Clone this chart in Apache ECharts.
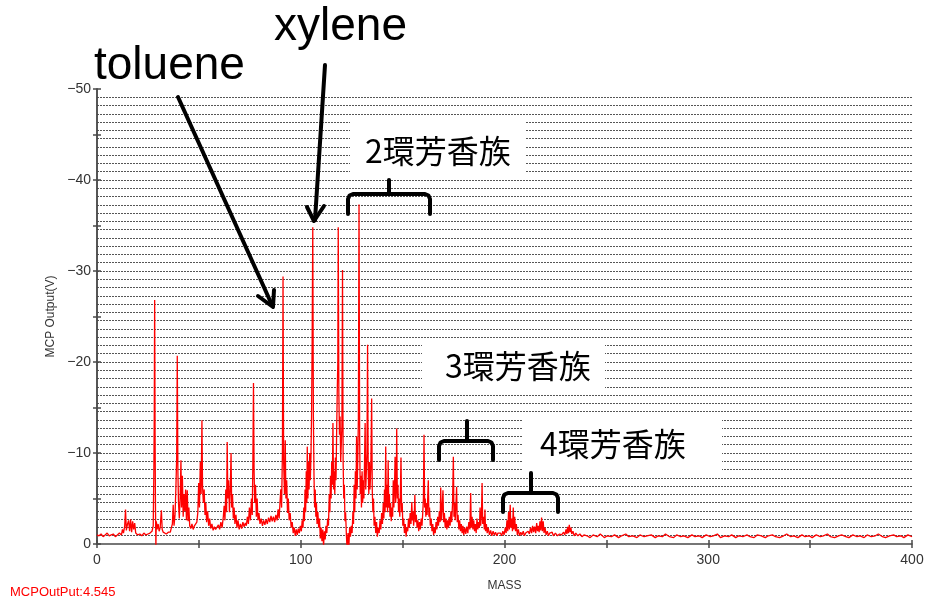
<!DOCTYPE html>
<html>
<head>
<meta charset="utf-8">
<script src="https://cdn.jsdelivr.net/npm/echarts@6/dist/echarts.min.js"></script>
<style>html,body{margin:0;padding:0;background:#fff}#c{width:928px;height:602px}</style>
</head>
<body>
<div id="c"></div>
<script>
// ---- data: [mass, MCP output (V)] ----
const lowMass = [
[0,-1.0],[1,-0.9],[2,-1.1],[3,-0.8],[4,-1.0],[5,-1.2],[6,-0.9],[7,-1.0],[8,-1.1],[9,-0.8],[10,-1.0],[11,-1.2],[12,-1.0],[12.5,-1.6],[13,-1.2],[13.6,-2.0],[14,-3.8],[14.4,-1.5],[15,-2.2],[15.5,-2.6],[16,-1.4],[16.5,-2.7],[17,-1.3],[17.5,-2.5],[18,-1.6],[18.5,-2.3],[19,-1.2],[20,-1.0],[21,-1.1],[22,-0.9],[23,-1.2],[24,-1.0],[25,-1.1],[26,-1.2],[27,-1.4],[27.6,-2.0],[27.9,-8],[28.1,-14],[28.3,-26.8],[28.5,-12],[28.7,-4],[28.9,0.3],[29.1,-2.5],[29.5,-1.6],[30,-2.2],[30.5,-1.4],[31,-1.8],[31.6,-3.7],[32,-1.6],[32.5,-1.3],[33,-1.2],[34,-1.1],[35,-1.3],
[36,-1.3],[36.5,-1.8],[37,-2.2],[37.4,-4.3],[37.8,-2.0],[38.3,-3.2],[38.7,-6.0],[39.1,-9.5],[39.4,-20.7],[39.7,-8.0],[40.0,-4.5],[40.4,-2.8],[40.8,-5.0],[41.2,-9.2],[41.5,-4.0],[41.9,-7.5],[42.3,-3.0],[42.7,-5.5],[43.1,-3.6],[43.5,-6.0],[43.9,-2.6],[44.3,-5.9],[44.7,-2.5],[45.1,-4.0],[45.5,-2.0],[46,-1.7],[46.6,-2.2],[47.2,-1.6],[47.8,-2.0],[48.4,-1.8],[49.0,-2.4],[49.5,-3.5],[49.9,-6.7],[50.3,-4.0],[50.7,-9.0],[51.1,-5.5],[51.5,-13.6],[51.8,-6.3],[52.2,-4.5],[52.6,-6.0],[53.0,-3.2],[53.4,-4.5],[53.8,-2.4],[54.3,-3.6],[54.8,-2.0],[55.3,-2.8],[55.8,-1.7],[56.4,-2.2],[57,-1.5],[57.6,-1.9],[58.2,-1.6]
];
const midMass = [
[59,-1.8],[59.6,-2.1],[60.2,-1.6],[60.8,-2.4],[61.4,-1.8],[62,-3.0],[62.4,-4.2],[62.8,-2.6],[63.2,-6.0],[63.6,-3.5],[63.9,-11.2],[64.2,-5.0],[64.6,-7.0],[65.0,-3.5],[65.4,-6.0],[65.8,-10.0],[66.1,-4.0],[66.5,-5.5],[66.9,-2.8],[67.3,-4.0],[67.7,-2.2],[68.2,-3.2],[68.7,-1.8],[69.2,-2.6],[69.8,-1.6],[70.4,-2.2],[71,-1.7],[71.6,-2.4],[72.2,-1.9],
[72.8,-2.3],[73.3,-2.0],[73.8,-3.0],[74.3,-2.2],[74.8,-4.0],[75.3,-2.6],[75.8,-5.0],[76.2,-3.2],[76.5,-9.0],[76.8,-17.7],[77.1,-8.0],[77.4,-4.5],[77.8,-6.5],[78.2,-3.0],[78.6,-5.0],[79.0,-2.6],[79.5,-3.4],[80,-2.2],[80.6,-2.8],[81.2,-2.0],[81.8,-2.6],[82.4,-2.1],[83,-2.7],
[83.6,-2.2],[84.2,-2.9],[84.8,-2.4],[85.4,-3.1],[86,-2.5],[86.6,-3.0],[87.2,-2.4],[87.8,-3.2],[88.4,-2.6],[88.9,-3.8],[89.4,-2.8],[89.8,-4.5],[90.2,-6.0],[90.6,-4.0],[91.0,-10],[91.3,-29.4],[91.6,-9],[92.0,-5.5],[92.4,-11.4],[92.7,-5.0],[93.1,-7.0],[93.5,-3.4],[93.9,-5.0],[94.3,-2.6],[94.8,-3.4],[95.3,-1.8],[95.8,-2.4],[96.3,-1.2],[96.8,-1.8],[97.3,-0.9],[97.8,-1.6],[98.3,-1.0],[98.8,-1.7],[99.3,-1.2],[99.8,-2.0]
];
const aromatic1 = [
[100.3,-1.4],[100.7,-2.6],[101.1,-1.8],[101.5,-4.0],[101.8,-2.5],[102.1,-6.0],[102.4,-3.5],[102.7,-8.0],[103.0,-4.5],[103.2,-10.7],[103.5,-5.0],[103.8,-9.0],[104.1,-6.0],[104.4,-10.0],[104.7,-7.0],[105.0,-9.5],[105.3,-14],[105.6,-22.4],[105.9,-34.8],[106.2,-14],[106.5,-7.5],[106.8,-4.0],[107.1,-6.0],[107.4,-3.0],[107.7,-4.5],[108.0,-2.2],[108.4,-3.5],[108.8,-1.8],[109.2,-2.8],[109.6,-0.6],[110.0,-1.8],[110.4,-0.3],[110.8,-1.6],[111.2,0.2],[111.6,-1.4],[112.0,-0.5],[112.4,-2.0],
[112.8,-1.2],[113.2,-2.8],[113.6,-2.0],[114.0,-5.5],[114.3,-3.5],[114.6,-7.5],[114.9,-5.0],[115.2,-9.0],[115.5,-6.5],[115.8,-13.3],[116.1,-6.0],[116.4,-8.0],[116.7,-5.5],[117.0,-9.5],[117.3,-7.0],[117.6,-12],[117.9,-16.6],[118.2,-20],[118.4,-34.8],[118.7,-16.6],[119.0,-12],[119.3,-14],[119.6,-9.0],[119.9,-11],[120.2,-13],[120.5,-30.1],[120.8,-9],[121.1,-5.0],[121.4,-6.5],[121.7,-2.5],[122.0,-3.5],[122.4,-1.0],[122.8,0.8],[123.2,-1.2],[123.6,0.4],[124.0,-1.8],[124.4,-0.8]
];
const aromatic2 = [
[124.8,-2.0],[125.2,-1.2],[125.6,-3.5],[125.9,-2.2],[126.2,-6.5],[126.5,-3.5],[126.8,-8.0],[127.1,-5.0],[127.4,-11.8],[127.7,-6.0],[128.0,-9.5],[128.3,-14],[128.6,-37.3],[128.9,-11.8],[129.2,-5.5],[129.5,-7.5],[129.8,-4.0],[130.1,-8.0],[130.4,-4.5],[130.7,-7.0],[131.0,-5.0],[131.3,-9.0],[131.6,-13.3],[131.9,-6.0],[132.2,-8.0],[132.5,-10],[132.8,-21.9],[133.1,-8.0],[133.4,-5.5],[133.7,-9.0],[134.0,-6.0],[134.4,-8.5],[134.8,-16.0],[135.1,-6.0],[135.4,-3.5],[135.7,-5.0],[136.0,-2.0],[136.4,-3.0],[136.8,-1.2],[137.2,-2.4],[137.6,-0.8],[138.0,-1.8],
[138.5,-1.2],[138.9,-2.6],[139.3,-1.6],[139.7,-3.4],[140.1,-2.2],[140.5,-4.5],[140.8,-2.8],[141.1,-6.0],[141.4,-3.5],[141.7,-10.7],[142.0,-4.0],[142.3,-6.5],[142.6,-3.5],[142.9,-9.2],[143.2,-4.0],[143.5,-5.5],[143.8,-3.0],[144.1,-4.5],[144.4,-2.5],[144.8,-4.0],[145.1,-3.0],[145.4,-7.0],[145.7,-4.0],[146.0,-6.0],[146.3,-9.6],[146.6,-4.5],[146.9,-7.0],[147.1,-12.7],[147.4,-5.0],[147.7,-6.5],[148.0,-3.5],[148.3,-5.0],[148.6,-3.0],[148.9,-5.5],[149.2,-9.5],[149.5,-3.5],[149.8,-4.5],[150.1,-2.0],[150.5,-2.8],[150.9,-1.2],[151.3,-2.2],[151.7,-0.8],[152.1,-1.8]
];
const aromatic3 = [
[152.5,-1.4],[152.9,-2.8],[153.3,-1.8],[153.7,-3.4],[154.1,-2.2],[154.5,-4.6],[154.8,-2.6],[155.1,-3.6],[155.4,-2.0],[155.7,-3.0],[156.0,-5.4],[156.3,-2.4],[156.7,-3.2],[157.1,-1.8],[157.5,-2.6],[157.9,-1.4],[158.3,-2.4],[158.7,-1.6],[159.1,-2.8],[159.5,-2.0],[159.9,-3.5],[160.2,-5.0],[160.5,-12],[160.8,-4.0],[161.1,-5.0],[161.4,-3.0],[161.7,-4.5],[162.0,-3.2],[162.3,-5.0],[162.6,-7.0],[162.9,-3.0],[163.2,-4.0],[163.6,-2.0],[164.0,-2.8],[164.4,-1.4],[164.8,-2.2],[165.2,-1.0],[165.6,-1.8],
[166.0,-1.2],[166.4,-2.4],[166.8,-1.6],[167.2,-3.0],[167.6,-2.0],[168.0,-3.6],[168.4,-2.4],[168.7,-6.2],[169.0,-2.6],[169.4,-4.0],[169.8,-5.9],[170.1,-2.4],[170.5,-3.4],[170.9,-1.8],[171.3,-2.8],[171.7,-1.6],[172.1,-2.6],[172.5,-1.8],[172.9,-3.0],[173.3,-2.0],[173.7,-3.6],[174.1,-2.4],[174.5,-4.5],[174.9,-9.6],[175.2,-3.0],[175.5,-4.5],[175.8,-2.6],[176.1,-4.0],[176.5,-6.3],[176.8,-2.4],[177.2,-3.2],[177.6,-1.6],[178.0,-2.6],[178.4,-1.4],[178.8,-2.2],[179.2,-1.2],[179.6,-2.0],[180.0,-1.0],[180.5,-1.8],[181.0,-1.1],[181.5,-1.9],
[182.0,-1.2],[182.5,-2.4],[183.0,-1.6],[183.4,-5.6],[183.7,-1.8],[184.1,-3.0],[184.5,-1.6],[184.9,-2.6],[185.3,-1.4],[185.7,-2.2],[186.1,-1.2],[186.5,-2.8],[186.9,-1.6],[187.3,-2.4],[187.7,-1.8],[188.0,-4.0],[188.3,-2.0],[188.7,-3.2],[189.0,-6.7],[189.3,-2.2],[189.7,-3.0],[190.1,-1.6],[190.4,-3.8],[190.7,-1.4],[191.1,-2.2],[191.5,-1.2],[192,-1.8],[192.6,-1.0],[193.2,-1.5],[193.8,-0.9],[194.4,-1.4],[195,-1.0],[195.6,-1.3],[196.2,-0.9],[196.8,-1.2],[197.4,-1.0]
];
const aromatic4 = [
[198,-1.2],[198.6,-0.9],[199.2,-1.4],[199.8,-1.0],[200.4,-1.8],[200.8,-1.2],[201.2,-2.6],[201.6,-1.4],[202.0,-3.5],[202.4,-1.6],[202.8,-4.3],[203.1,-1.8],[203.5,-2.8],[203.9,-1.4],[204.3,-4.0],[204.6,-1.6],[205.0,-3.0],[205.4,-1.4],[205.8,-2.2],[206.3,-1.0],[206.8,-1.6],[207.4,-0.9],[208,-1.3],[208.6,-1.0],[209.2,-1.4],[209.8,-0.9],[210.4,-1.2],[211,-1.0],[211.6,-1.4],[212.2,-1.1],[212.8,-1.8],[213.3,-1.2],[213.8,-2.0],[214.3,-1.3],[214.8,-1.9],[215.3,-1.2],[215.8,-2.3],[216.2,-1.4],[216.6,-2.0],[217.0,-1.3],[217.4,-2.5],[217.8,-1.5],[218.2,-2.9],[218.6,-1.4],[219.0,-2.5],[219.4,-1.2],[219.9,-1.8],[220.4,-1.0],[221,-1.4],[221.6,-0.9],[222.2,-1.2],[222.8,-1.0],[223.4,-1.3],[224,-0.9],[225,-1.2],[226,-0.9],[227,-1.1],[228,-1.0],[229,-1.3],[229.6,-1.0],[230.2,-1.6],[230.6,-1.1],[231.0,-1.9],[231.4,-1.2],[231.8,-2.1],[232.2,-1.3],[232.6,-1.8],[233.0,-1.1],[233.6,-1.4],[234.2,-0.9],[235,-1.2],[236,-0.9],[237,-1.1],[238,-0.8],[239,-1.0]
];
const highMass = [
[240.5,-0.9],[242,-0.7],[243.5,-1.0],[245.5,-0.8],[247,-1.1],[249,-0.7],[250.5,-0.9],[252.5,-0.8],[254,-1.0],[256,-0.7],[257.5,-0.9],[259.5,-1.1],[261,-0.8],[263,-0.9],[265,-0.7],[266.5,-1.0],[268.5,-0.8],[270,-0.9],[272,-1.0],[274,-0.7],[275.5,-0.9],[277.5,-0.8],[279,-1.1],[281,-0.8],[283,-0.7],[284.5,-1.0],[286.5,-0.8],[288,-0.9],[290,-0.7],[292,-1.0],[293.5,-0.8],[295.5,-0.9],[297,-0.7],[299,-1.0],[301,-0.8],[302.5,-0.9],[304.5,-1.1],[306,-0.7],[308,-0.9],[310,-0.8],[311.5,-1.0],[313.5,-0.7],[315,-0.9],[317,-0.8],[319,-1.0],[320.5,-0.8],[322.5,-0.7],[324,-1.0],[326,-0.9],[328,-0.7],[329.5,-0.9],[331.5,-1.0],[333,-0.8],[335,-0.7],[337,-0.9],[338.5,-1.1],[340.5,-0.8],[342,-0.9],[344,-0.7],[346,-1.0],[347.5,-0.8],[349.5,-0.9],[351,-0.7],[353,-1.0],[355,-0.8],[356.5,-0.9],[358.5,-1.1],[360,-0.8],[362,-0.7],[364,-0.9],[365.5,-1.0],[367.5,-0.8],[369,-0.7],[371,-1.0],[373,-0.8],[374.5,-0.9],[376.5,-0.7],[378,-1.0],[380,-0.8],[382,-0.9],[383.5,-1.1],[385.5,-0.8],[387,-0.7],[389,-0.9],[391,-1.0],[392.5,-0.8],[394.5,-0.9],[396,-0.7],[398,-1.0],[400,-0.8]
];
const yTickLabels = ['0','−10','−20','−30','−40','−50'];
const xTickLabels = ['0','100','200','300','400'];

const spectrum = [].concat(lowMass, midMass, aromatic1, aromatic2, aromatic3, aromatic4, highMass);

const chart = echarts.init(document.getElementById('c'), null, {renderer:'canvas'});
const axisColor = '#4a4a4a';
const labelFont = {fontFamily:'Liberation Sans, Arial, sans-serif', fontSize:14, color:'#333'};
const cjk = '"Noto Sans CJK JP", sans-serif';
const blk = {stroke:'#000', lineWidth:4, fill:null, lineCap:'round', lineJoin:'round'};
function brace(x1, x2, xc, yEnd, yBar, yTip){
  return [
    {type:'polyline', z:110, shape:{points:[[x1,yEnd],[x1,yBar+5],[x1+1.5,yBar+1.5],[x1+5,yBar],[x2-5,yBar],[x2-1.5,yBar+1.5],[x2,yBar+5],[x2,yEnd]]}, style:blk},
    {type:'line', z:110, shape:{x1:xc, y1:yBar, x2:xc, y2:yTip}, style:blk}
  ];
}

chart.setOption({
  animation:false,
  backgroundColor:'#fff',
  grid:{left:97, right:16, top:89, bottom:58, containLabel:false},
  xAxis:[{
    type:'value', min:0, max:400, interval:50, position:'bottom',
    name:'MASS', nameLocation:'middle', nameGap:36,
    nameTextStyle:{fontFamily:'Liberation Sans, Arial, sans-serif', fontSize:12, color:'#333'},
    axisLine:{show:true, onZero:false, lineStyle:{color:axisColor, width:1.5}},
    axisTick:{show:true, length:4, lineStyle:{color:axisColor, width:1.5}},
    axisLabel:Object.assign({margin:9, formatter:v=>{const i=xTickLabels.indexOf(String(v)); return i>=0?xTickLabels[i]:'';}}, labelFont),
    splitLine:{show:false}
  },{
    type:'value', min:0, max:400, interval:50, position:'bottom',
    axisLine:{show:false}, axisTick:{show:true, inside:true, length:4, lineStyle:{color:axisColor, width:1.5}},
    axisLabel:{show:false}, splitLine:{show:false}
  }],
  yAxis:[{
    type:'value', min:-50, max:0, interval:5, inverse:true, position:'left',
    name:'MCP Output(V)', nameLocation:'middle', nameGap:40, nameRotate:90,
    nameTextStyle:{fontFamily:'Liberation Sans, Arial, sans-serif', fontSize:12, color:'#333'},
    axisLine:{show:true, onZero:false, lineStyle:{color:axisColor, width:1.5}},
    axisTick:{show:true, length:4, lineStyle:{color:axisColor, width:1.5}},
    axisLabel:Object.assign({margin:6, formatter:v=>{if(v%10!==0) return ''; return yTickLabels[Math.abs(v)/10];}}, labelFont),
    splitLine:{show:false}
  },{
    type:'value', min:-50, max:0, interval:5, inverse:true, position:'left',
    axisLine:{show:false}, axisTick:{show:true, inside:true, length:4, lineStyle:{color:axisColor, width:1.5}},
    axisLabel:{show:false}, splitLine:{show:false}
  },{
    type:'value', min:0, max:55, interval:1, position:'right',
    axisLine:{show:true, lineStyle:{color:axisColor, width:1.5}},
    axisTick:{show:false}, axisLabel:{show:false},
    splitLine:{show:true, showMinLine:false, showMaxLine:false, lineStyle:{color:'#555', width:1.2, type:[2,1]}}
  }],
  series:[{
    type:'line', xAxisIndex:0, yAxisIndex:0, data:spectrum,
    showSymbol:false, symbol:'none', smooth:false,
    lineStyle:{color:'#ff0000', width:1.3}, z:5
  }],
  graphic:[
    {type:'rect', z:100, shape:{x:350, y:122, width:176, height:56}, style:{fill:'#fff'}},
    {type:'rect', z:100, shape:{x:422, y:340, width:183, height:53}, style:{fill:'#fff'}},
    {type:'rect', z:100, shape:{x:523, y:415, width:199, height:55}, style:{fill:'#fff'}},
    {type:'text', z:110, x:365, y:151, style:{text:'2環芳香族', font:'32px '+cjk, fill:'#000', textVerticalAlign:'middle'}},
    {type:'text', z:110, x:445, y:366, style:{text:'3環芳香族', font:'32px '+cjk, fill:'#000', textVerticalAlign:'middle'}},
    {type:'text', z:110, x:540, y:444, style:{text:'4環芳香族', font:'32px '+cjk, fill:'#000', textVerticalAlign:'middle'}},
    {type:'text', z:110, x:94, y:66, style:{text:'toluene', font:'46px "Liberation Sans", Arial, sans-serif', fill:'#000', textVerticalAlign:'middle'}},
    {type:'text', z:110, x:274, y:27, style:{text:'xylene', font:'46px "Liberation Sans", Arial, sans-serif', fill:'#000', textVerticalAlign:'middle'}}
  ].concat(
    brace(348, 430, 389, 214, 194, 180),
    brace(439, 493, 467, 460, 441, 421),
    brace(503, 558, 531, 512, 493, 473),
    [
      {type:'line', z:110, shape:{x1:178, y1:97, x2:272, y2:305}, style:blk},
      {type:'polyline', z:110, shape:{points:[[258,296],[273,307],[274,290]]}, style:blk},
      {type:'line', z:110, shape:{x1:325, y1:65, x2:315, y2:220}, style:blk},
      {type:'polyline', z:110, shape:{points:[[307,207],[314,221],[324,206]]}, style:blk},
      {type:'text', z:110, x:10, y:592, style:{text:'MCPOutPut:4.545', font:'13px "Liberation Sans", Arial, sans-serif', fill:'#ff0000', textVerticalAlign:'middle'}}
    ]
  )
});
</script>
</body>
</html>
